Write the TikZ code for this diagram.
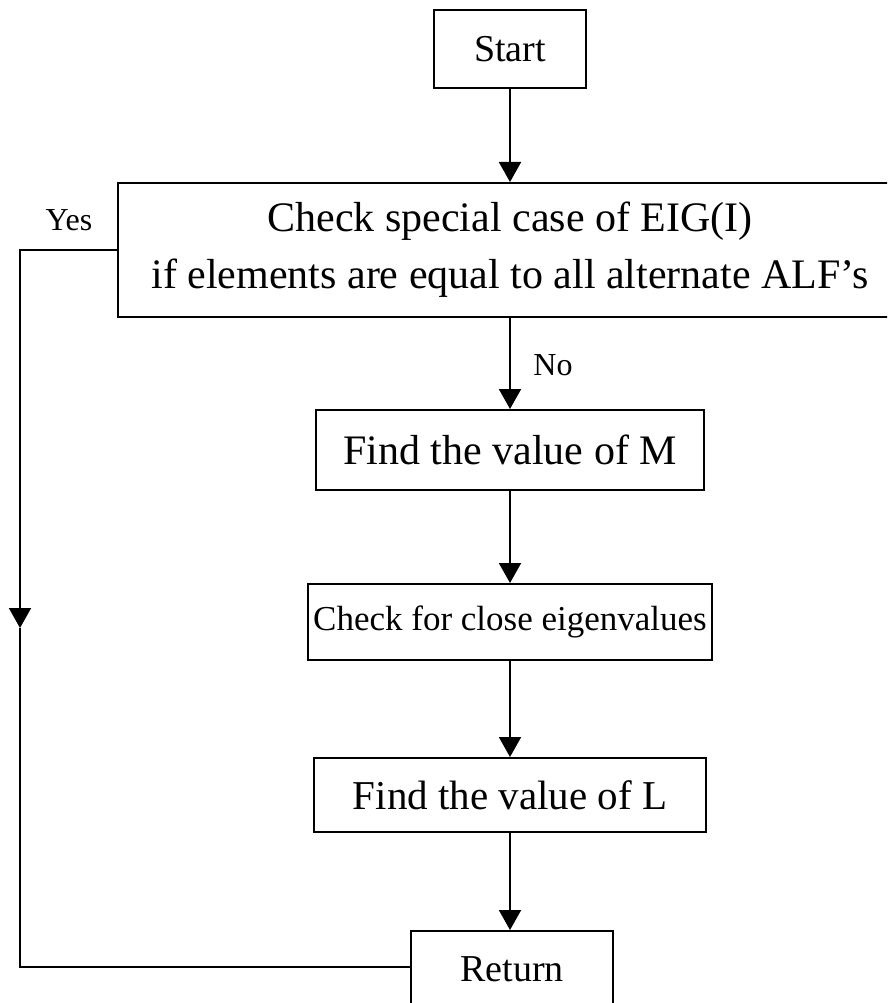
\documentclass[tikz,border=0pt]{standalone}
\usepackage{fontspec}
\setmainfont{Liberation Serif}
\usetikzlibrary{arrows.meta}
\newcommand{\fsz}[1]{\fontsize{#1}{57}\selectfont}
\tikzset{
  box/.style={draw, line width=2pt, inner sep=0pt, align=center, font=\fsz{38}},
  flow/.style={line width=2pt, -{Triangle[width=22pt,length=20pt]}},
  plain/.style={line width=2pt},
  tag/.style={font=\fontsize{32}{38}\selectfont, inner sep=0pt}
}
\begin{document}
\begin{tikzpicture}[x=1pt,y=-1pt]
\clip (0,0) rectangle (887,1003);
% boxes
\node[box, minimum width=152pt, minimum height=78pt] (start) at (510,49) {Start};
\node[box, font=\fsz{42}, minimum width=784pt, minimum height=134pt] (check) at (510,250)
  {Check special case of EIG(I)\\if elements are equal to all alternate ALF’s};
\node[box, font=\fsz{42}, minimum width=388pt, minimum height=80pt] (findm) at (510,450) {Find the value of M};
\node[box, font=\fsz{35}, minimum width=404pt, minimum height=76pt] (close) at (510,622) {Check for close eigenvalues};
\node[box, font=\fsz{41}, minimum width=392pt, minimum height=74pt] (findl) at (510,795) {Find the value of L};
\node[box, minimum width=202pt, text height=50pt, text depth=50pt, anchor=north] (ret) at (512,930) {Return};
% labels
\node[tag] (yes) at (69,220) {Yes};
\node[tag] (no) at (553,365) {No};
% main flow
\draw[flow] (start.south) -- (check.north);
\draw[flow] (check.south) -- (findm.north);
\draw[flow] (findm.south) -- (close.north);
\draw[flow] (close.south) -- (findl.north);
\draw[flow] (findl.south) -- (ret.north -| findl.south);
% "Yes" branch around the left side
\coordinate (ytop) at (20,250);
\coordinate (ymid) at (20,628);
\coordinate (ybot) at (20,967);
\draw[flow] (check.west) -- (ytop) -- (ymid);
\draw[plain] (ymid) -- (ybot) -- (ybot -| ret.west);
\end{tikzpicture}
\end{document}
